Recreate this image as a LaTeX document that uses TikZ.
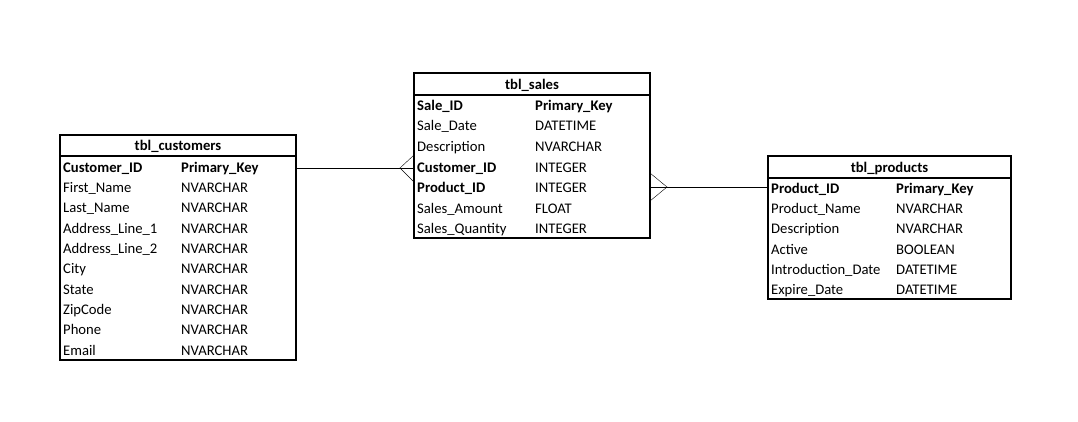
\documentclass[tikz,border=0pt]{standalone}
\usepackage{fontspec}
\setmainfont{Carlito}

\begin{document}
\begin{tikzpicture}[x=1pt,y=-1pt,
	frame/.style={draw,line width=2pt},
	hdr/.style={font=\bfseries,anchor=base,inner sep=0pt},
	fld/.style={anchor=base west,inner sep=0pt},
	keyfld/.style={fld,font=\bfseries}]

	\useasboundingbox (0,0) rectangle (1078,421);
	\fontsize{14.67}{17}\selectfont

	% tbl_customers
	\draw[frame] (60,135) rectangle (296,360);
	\draw[line width=2pt] (60,156) -- (296,156);
	\node[hdr] (custhdr) at (178,150) {tbl\_customers};
	\node[keyfld] (cust1) at (63,172) {Customer\_ID};
	\node[keyfld] (cust1t) at (181,172) {Primary\_Key};
	\node[fld] (cust2) at (63,192) {First\_Name};
	\node[fld] (cust2t) at (181,192) {NVARCHAR};
	\node[fld] (cust3) at (63,212) {Last\_Name};
	\node[fld] (cust3t) at (181,212) {NVARCHAR};
	\node[fld] (cust4) at (63,233) {Address\_Line\_1};
	\node[fld] (cust4t) at (181,233) {NVARCHAR};
	\node[fld] (cust5) at (63,253) {Address\_Line\_2};
	\node[fld] (cust5t) at (181,253) {NVARCHAR};
	\node[fld] (cust6) at (63,273) {City};
	\node[fld] (cust6t) at (181,273) {NVARCHAR};
	\node[fld] (cust7) at (63,294) {State};
	\node[fld] (cust7t) at (181,294) {NVARCHAR};
	\node[fld] (cust8) at (63,314) {ZipCode};
	\node[fld] (cust8t) at (181,314) {NVARCHAR};
	\node[fld] (cust9) at (63,334) {Phone};
	\node[fld] (cust9t) at (181,334) {NVARCHAR};
	\node[fld] (cust10) at (63,355) {Email};
	\node[fld] (cust10t) at (181,355) {NVARCHAR};

	% tbl_sales
	\draw[frame] (414,73) rectangle (650,238);
	\draw[line width=2pt] (414,95) -- (650,95);
	\node[hdr] (salehdr) at (532,89) {tbl\_sales};
	\node[keyfld] (sale1) at (417,110) {Sale\_ID};
	\node[keyfld] (sale1t) at (535,110) {Primary\_Key};
	\node[fld] (sale2) at (417,130) {Sale\_Date};
	\node[fld] (sale2t) at (535,130) {DATETIME};
	\node[fld] (sale3) at (417,151) {Description};
	\node[fld] (sale3t) at (535,151) {NVARCHAR};
	\node[keyfld] (sale4) at (417,172) {Customer\_ID};
	\node[fld] (sale4t) at (535,172) {INTEGER};
	\node[keyfld] (sale5) at (417,192) {Product\_ID};
	\node[fld] (sale5t) at (535,192) {INTEGER};
	\node[fld] (sale6) at (417,213) {Sales\_Amount};
	\node[fld] (sale6t) at (535,213) {FLOAT};
	\node[fld] (sale7) at (417,233) {Sales\_Quantity};
	\node[fld] (sale7t) at (535,233) {INTEGER};

	% tbl_products
	\draw[frame] (768,156) rectangle (1011,299);
	\draw[line width=2pt] (768,178) -- (1011,178);
	\node[hdr] (prodhdr) at (889.5,172) {tbl\_products};
	\node[keyfld] (prod1) at (771,193) {Product\_ID};
	\node[keyfld] (prod1t) at (896,193) {Primary\_Key};
	\node[fld] (prod2) at (771,213) {Product\_Name};
	\node[fld] (prod2t) at (896,213) {NVARCHAR};
	\node[fld] (prod3) at (771,233) {Description};
	\node[fld] (prod3t) at (896,233) {NVARCHAR};
	\node[fld] (prod4) at (771,254) {Active};
	\node[fld] (prod4t) at (896,254) {BOOLEAN};
	\node[fld] (prod5) at (771,274) {Introduction\_Date};
	\node[fld] (prod5t) at (896,274) {DATETIME};
	\node[fld] (prod6) at (771,294) {Expire\_Date};
	\node[fld] (prod6t) at (896,294) {DATETIME};

	% relations
	\coordinate (custR) at (296,168);
	\coordinate (saleL) at (414,168);
	\coordinate (crowA) at (400,168);
	\coordinate (crowA1) at (414,155);
	\coordinate (crowA2) at (414,182);
	\draw (custR) -- (saleL);
	\draw (crowA1) -- (crowA) -- (crowA2);

	\coordinate (saleR) at (650,187);
	\coordinate (prodL) at (768,187);
	\coordinate (crowB) at (667,187);
	\coordinate (crowB1) at (650,173);
	\coordinate (crowB2) at (650,201);
	\draw (saleR) -- (prodL);
	\draw (crowB1) -- (crowB) -- (crowB2);

\end{tikzpicture}
\end{document}
